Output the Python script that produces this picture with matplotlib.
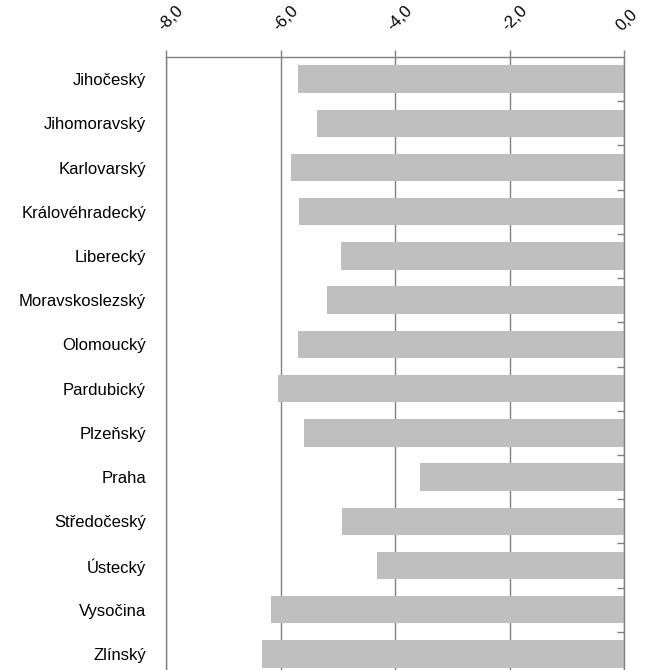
import matplotlib.pyplot as plt
from matplotlib.ticker import FixedLocator, FuncFormatter

regions = ["Jihočeský", "Jihomoravský", "Karlovarský", "Královéhradecký",
           "Liberecký", "Moravskoslezský", "Olomoucký", "Pardubický",
           "Plzeňský", "Praha", "Středočeský", "Ústecký", "Vysočina", "Zlínský"]
values = [-5.69, -5.37, -5.81, -5.68, -4.94, -5.19, -5.69, -6.05,
          -5.59, -3.56, -4.92, -4.31, -6.17, -6.32]
xticks = [-8, -6, -4, -2, 0]

plt.rcParams['font.family'] = ['Liberation Sans', 'DejaVu Sans']
grey = '#808080'

fig = plt.figure(figsize=(6.57, 6.70), dpi=100)
ax = fig.add_axes([166/657, 1 - 676/670, 458/657, 619/670])

pos = list(range(len(regions)))
ax.barh(pos, values, height=0.62, color='#BFBFBF', zorder=2)

ax.set_xlim(-8, 0)
ax.set_ylim(len(regions) - 0.5, -0.5)

# value axis on top
ax.xaxis.set_ticks_position('top')
ax.xaxis.set_label_position('top')
ax.set_xticks(xticks)
ax.xaxis.set_major_formatter(FuncFormatter(lambda v, p: f"{v:.1f}".replace('.', ',')))
ax.tick_params(axis='x', which='major', direction='out', length=5, width=1,
               color=grey, labelsize=12, pad=12)
for lab in ax.get_xticklabels():
    lab.set_rotation(45)
    lab.set_ha('left')
    lab.set_va('bottom')
    lab.set_rotation_mode('anchor')
ax.grid(axis='x', color=grey, linewidth=1, zorder=1)

# category axis
ax.set_yticks(pos)
ax.set_yticklabels(regions)
ax.tick_params(axis='y', which='major', length=0, pad=14.4, labelsize=12)
ax.yaxis.set_minor_locator(FixedLocator([p + 0.5 for p in pos]))
ax.tick_params(axis='y', which='minor', left=False, right=True,
               direction='in', length=5, width=1, color=grey)

for side in ['top', 'right', 'left']:
    ax.spines[side].set_color(grey)
    ax.spines[side].set_linewidth(1)
ax.spines['bottom'].set_visible(False)

fig.savefig('out.png', dpi=100)
